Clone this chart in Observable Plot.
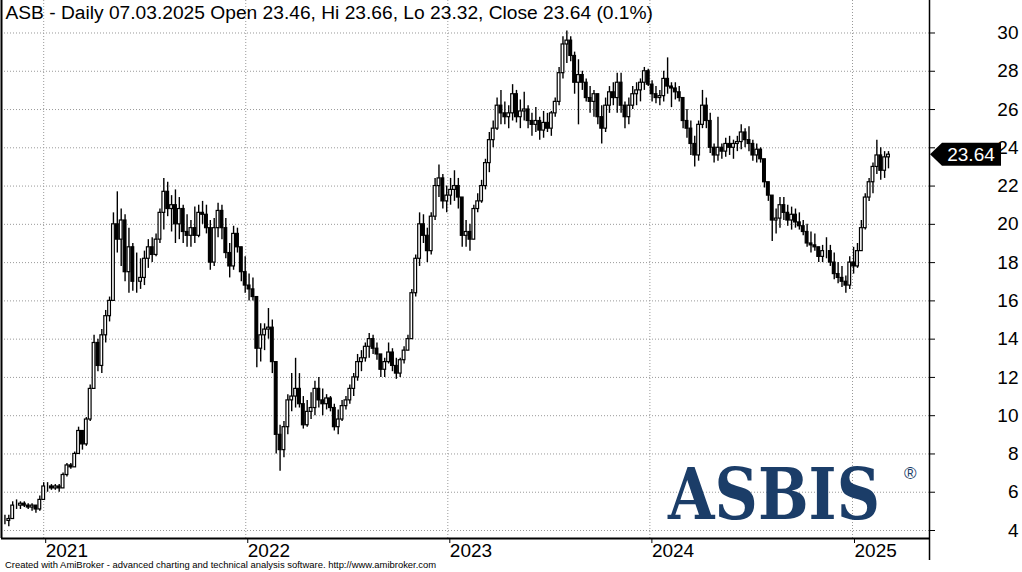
<!DOCTYPE html>
<html><head><meta charset="utf-8">
<script src="https://cdn.jsdelivr.net/npm/d3@7"></script>
<script src="https://cdn.jsdelivr.net/npm/@observablehq/plot@0.6"></script>
<style>body{margin:0;background:#fff}#chart{width:1022px;height:572px;overflow:hidden}</style>
</head><body><div id="chart"></div>
<script>
const titleText = "ASB - Daily 07.03.2025 Open 23.46, Hi 23.66, Lo 23.32, Close 23.64 (0.1%)";
const captionText = "Created with AmiBroker - advanced charting and technical analysis software. http://www.amibroker.com";
const logoText = "ASBIS";
const lastCloseLabel = "23.64";
const lastClose = 23.64;
const firstWeek = "2020-10-23";
const firstOpen = 4.5;
const yTicks = [4, 6, 8, 10, 12, 14, 16, 18, 20, 22, 24, 26, 28, 30];
const yearTicks = ["2021-01-01", "2022-01-01", "2023-01-01", "2024-01-01", "2025-01-01"];

// weekly bars
const weekHigh = [
 4.8,4.8,5.5,5.6,5.5,5.5,5.4,5.4,5.3,5.8,
 6.5,6.5,6.4,6.4,6.4,7.0,7.5,7.5,8.1,9.4,
 9.2,9.9,11.6,14.2,14.0,14.5,15.5,16.2,20.6,21.7,
 20.8,20.5,19.8,19.0,18.5,18.2,18.6,19.2,19.3,19.5,
 20.8,22.4,22.2,21.5,21.8,21.4,21.0,20.5,20.2,20.9,
 21.0,21.2,21.0,20.2,20.3,21.1,21.0,20.3,19.0,19.9,
 19.8,18.8,18.3,17.4,17.2,16.2,14.8,14.8,15.6,15.0,
 11.2,9.5,9.7,11.1,12.2,13.0,12.2,11.0,10.8,11.2,
 11.8,12.0,11.4,11.1,11.0,10.6,10.3,10.8,11.0,11.6,
 12.2,13.2,13.4,13.8,14.3,14.2,13.8,13.2,13.0,13.8,
 13.5,13.0,13.0,13.6,14.2,16.6,18.4,20.6,20.5,19.8,
 20.6,22.4,23.1,22.6,22.0,22.4,22.8,22.4,20.8,20.2,
 20.0,21.0,21.6,22.3,23.4,24.8,25.4,26.6,27.0,26.4,
 26.2,27.3,27.0,26.5,26.9,26.2,25.8,26.1,25.6,25.9,
 25.8,25.9,26.6,28.2,29.8,30.1,29.8,29.0,28.6,28.0,
 27.6,27.2,27.0,26.8,26.2,26.6,27.2,27.4,27.9,27.9,
 26.4,26.6,27.2,27.4,27.6,28.2,28.1,27.5,27.2,27.0,
 28.0,28.7,27.4,27.4,27.2,26.5,26.0,25.4,24.6,25.4,
 27.0,26.6,25.8,24.2,25.6,24.2,24.5,24.6,24.4,24.6,
 25.2,25.0,25.1,24.4,24.2,24.0,23.3,22.1,21.3,20.8,
 21.4,21.4,21.0,20.9,20.8,20.6,20.2,20.0,19.6,19.5,
 18.8,18.9,19.3,18.9,18.5,18.0,17.8,17.3,18.3,18.8,
 19.0,20.2,21.6,22.4,23.2,24.4,24.0,23.8,23.8
];
const weekLow = [
 4.3,4.2,4.6,5.1,5.1,5.2,5.1,5.0,4.9,5.0,
 5.9,6.0,6.1,6.1,6.0,6.3,6.8,7.2,7.3,8.2,
 8.2,8.4,9.7,11.8,12.3,12.2,13.8,14.9,16.0,18.5,
 17.8,17.0,16.4,16.5,16.4,16.6,16.8,17.7,18.0,18.3,
 19.0,19.7,20.4,19.6,19.0,19.2,19.0,18.8,18.8,19.0,
 19.3,20.0,19.5,17.6,17.8,19.3,19.2,18.2,17.2,17.6,
 18.5,17.0,16.4,16.0,16.0,12.5,12.8,13.4,14.0,12.2,
 8.0,7.1,7.8,9.0,10.2,10.4,10.4,9.3,9.4,9.8,
 10.0,10.4,10.0,10.3,10.2,9.2,9.0,9.7,10.3,10.6,
 11.0,11.8,12.3,12.8,13.0,13.2,12.9,12.0,12.0,12.7,
 12.3,11.9,12.0,12.7,13.4,14.0,16.2,17.8,19.0,18.0,
 18.4,20.2,21.4,20.8,20.6,21.0,21.2,20.8,18.8,18.8,
 18.6,19.2,20.6,21.1,21.8,22.7,24.0,24.9,25.2,25.2,
 25.0,25.4,25.3,25.0,25.4,25.0,24.6,24.8,24.4,24.5,
 24.8,24.6,25.6,26.2,27.6,28.4,28.5,26.8,25.2,27.0,
 26.4,25.8,25.6,25.2,24.2,24.8,25.8,26.2,25.8,25.8,
 25.0,25.2,26.0,26.2,26.4,27.0,27.2,26.4,26.3,26.2,
 26.4,26.8,26.1,26.5,26.4,25.0,24.5,23.6,23.0,23.3,
 25.0,25.0,23.7,23.2,23.3,23.4,23.5,23.6,23.4,23.8,
 23.9,24.0,23.8,23.3,23.2,23.2,21.9,21.2,19.1,19.5,
 19.8,20.2,19.9,19.7,19.8,19.7,19.4,18.8,18.5,18.6,
 18.0,18.0,18.2,17.8,17.1,16.9,16.7,16.4,16.6,17.4,
 17.7,18.6,19.7,21.2,21.6,22.6,22.3,22.4,22.9
];
const weekClose = [
 4.5,4.6,5.3,5.3,5.4,5.3,5.2,5.3,5.1,5.6,
 6.3,6.3,6.2,6.3,6.2,6.9,7.4,7.3,8.0,9.2,
 8.5,9.8,11.4,13.8,12.6,14.2,15.2,16.0,20.0,19.2,
 20.2,17.5,18.8,17.0,17.0,17.2,18.2,18.8,18.4,19.2,
 20.6,21.7,20.8,21.0,20.0,20.8,19.6,19.4,19.8,19.4,
 20.6,20.5,19.8,18.0,19.8,20.7,19.8,18.5,17.8,19.5,
 18.8,17.5,16.8,16.6,16.2,13.5,14.2,14.5,14.6,12.8,
 9.0,8.2,9.4,10.8,11.0,11.4,10.6,9.5,10.2,10.4,
 11.4,10.8,10.6,10.9,10.4,9.4,9.8,10.5,10.8,11.4,
 12.0,12.8,13.0,13.6,14.0,13.5,13.2,12.4,12.8,13.3,
 12.6,12.2,12.9,13.4,14.0,16.4,18.2,20.0,19.4,18.6,
 20.4,22.0,22.4,21.2,21.5,21.8,22.0,21.4,19.4,19.6,
 19.2,20.8,21.2,22.0,23.2,24.4,25.0,26.2,25.8,25.6,
 25.8,26.8,25.6,25.9,26.0,25.4,25.2,25.4,24.9,25.3,
 25.0,25.8,26.4,27.9,29.4,29.6,28.8,27.4,27.8,27.4,
 26.6,26.4,26.8,25.6,25.0,26.2,26.9,26.6,27.4,26.2,
 25.6,26.2,26.8,27.0,27.4,28.0,27.3,26.8,26.6,26.7,
 27.6,27.2,27.1,26.9,26.6,25.4,25.0,24.2,23.6,25.2,
 26.2,25.4,24.0,23.6,24.0,23.8,24.2,24.0,24.2,24.3,
 24.8,24.4,24.2,23.6,23.9,23.4,22.2,21.5,20.2,20.3,
 21.0,20.6,20.2,20.5,20.1,19.9,19.6,19.0,18.9,18.8,
 18.3,18.6,18.6,18.0,17.4,17.2,17.0,16.8,18.0,17.8,
 18.6,19.8,21.4,22.2,23.0,23.6,22.8,23.5,23.64
];

const start = new Date(firstWeek + "T00:00Z");
const bars = weekClose.map((c, i) => ({
  date: d3.utcDay.offset(start, 7 * i),
  open: i === 0 ? firstOpen : weekClose[i - 1],
  high: weekHigh[i],
  low: weekLow[i],
  close: c
}));
const upBars = bars.filter(d => d.close >= d.open);
const downBars = bars.filter(d => d.close < d.open);
const yearDates = yearTicks.map(s => new Date(s + "T00:00Z"));

const xDomain = [new Date("2020-10-16T19:00Z"), new Date("2025-05-20T02:00Z")];
const yDomain = [3.582, 31.698];
const font = "Arial, 'Liberation Sans', sans-serif";
const gridStyle = {stroke: "#999", strokeOpacity: 1, strokeDasharray: "1,2", strokeWidth: 1};
const bodyX1 = d => d3.utcHour.offset(d.date, -60);
const bodyX2 = d => d3.utcHour.offset(d.date, 60);

const chart = Plot.plot({
  width: 1022, height: 572,
  marginTop: 0, marginBottom: 34, marginLeft: 1, marginRight: 93,
  style: {fontFamily: font, background: "#fff", color: "#000"},
  x: {type: "utc", domain: xDomain},
  y: {domain: yDomain},
  marks: [
    Plot.gridY(yTicks, gridStyle),
    Plot.gridX(yearDates, gridStyle),
    Plot.ruleX(bars, {x: "date", y1: "low", y2: "high", stroke: "#000", strokeWidth: 1.4}),
    Plot.rect(downBars, {x1: bodyX1, x2: bodyX2, y1: "open", y2: "close", fill: "#000", stroke: "#000", strokeWidth: 1.2}),
    Plot.rect(upBars, {x1: bodyX1, x2: bodyX2, y1: "open", y2: "close", fill: "#fff", stroke: "#000", strokeWidth: 1.2}),
    Plot.ruleY([yDomain[0]], {stroke: "#000", strokeWidth: 2}),
    Plot.ruleX([xDomain[0]], {stroke: "#000", strokeWidth: 2}),
    Plot.ruleX([xDomain[1]], {y1: yDomain[1], y2: 2.43, stroke: "#000", strokeWidth: 1.5}),
    Plot.axisY(yTicks, {anchor: "right", tickSize: 5, tickPadding: 84, textAnchor: "end", fontSize: 19, label: null, stroke: "#000", fill: "#000"}),
    Plot.axisX(yearDates, {anchor: "bottom", tickSize: 5, tickPadding: 0, textAnchor: "start", dx: 2, tickFormat: "%Y", fontSize: 19, label: null, stroke: "#000", fill: "#000"})
  ]
});
document.getElementById("chart").appendChild(chart);

const svg = d3.select(chart);
const xs = chart.scale("x"), ys = chart.scale("y");

svg.append("text").attr("x", 5.5).attr("y", 18.8).attr("text-anchor", "start")
  .attr("font-family", font).attr("font-size", 19.2).attr("fill", "#000").text(titleText);
svg.append("text").attr("x", 5).attr("y", 568.3).attr("text-anchor", "start")
  .attr("font-family", font).attr("font-size", 9.45).attr("fill", "#000").text(captionText);

// logo: horizontally compressed bold serif
const logo = svg.append("text").attr("text-anchor", "start")
  .attr("font-family", "'DejaVu Serif', serif").attr("font-weight", "bold")
  .attr("font-size", 72).attr("fill", "#1b3d68").text(logoText);
const natural = logo.node().getComputedTextLength() || 250;
logo.attr("transform", `translate(668,519) scale(${212 / natural},1)`);
svg.append("text").attr("x", 904).attr("y", 479).attr("text-anchor", "start")
  .attr("font-family", font).attr("font-size", 17).attr("fill", "#1b3d68").text("\u00ae");

// last price label
const px = xs.apply(xDomain[1]);
const py = ys.apply(lastClose);
svg.append("path")
  .attr("d", `M${px + 1},${py} L${px + 13},${py - 11.5} L${px + 72},${py - 11.5} L${px + 72},${py + 11.5} L${px + 13},${py + 11.5} Z`)
  .attr("fill", "#000");
svg.append("text").attr("x", px + 42).attr("y", py).attr("dy", "0.36em")
  .attr("text-anchor", "middle").attr("font-family", font).attr("font-size", 19)
  .attr("fill", "#fff").text(lastCloseLabel);
</script></body></html>
